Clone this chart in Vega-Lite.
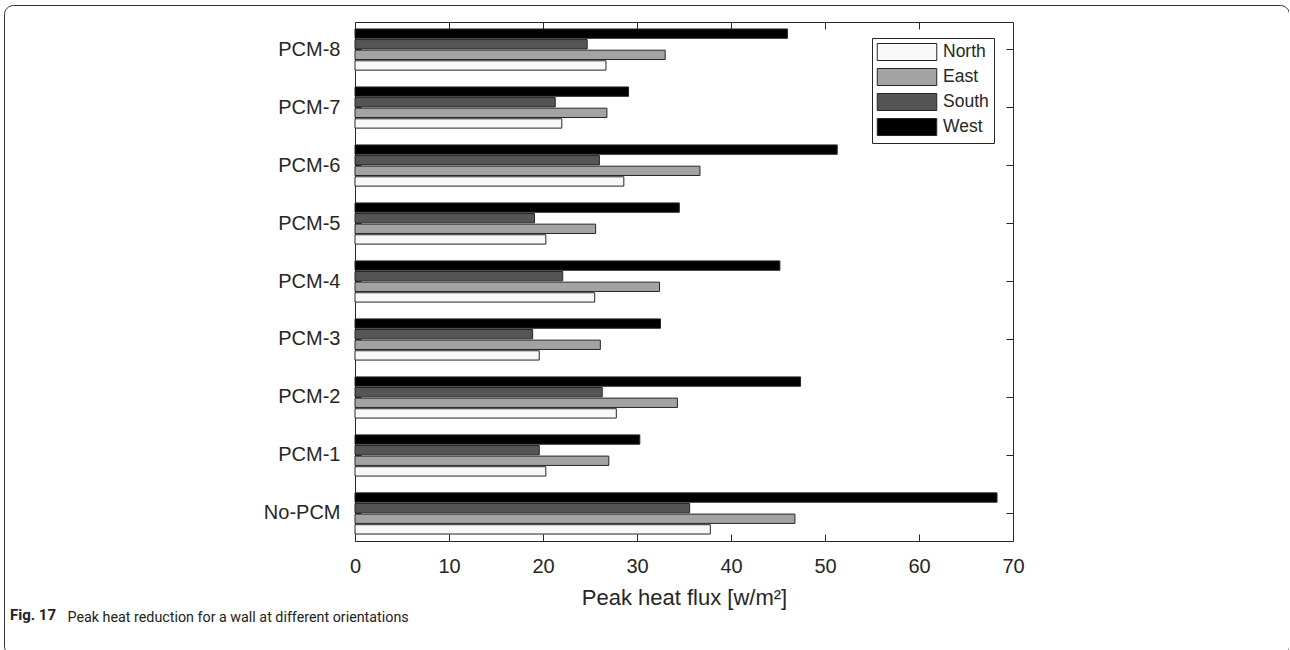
{
  "$schema": "https://vega.github.io/schema/vega-lite/v6.json",
  "width": 1285,
  "height": 650,
  "autosize": {"type": "none"},
  "padding": {"left": 4, "top": 5, "right": 0, "bottom": 0},
  "background": "white",
  "config": {
    "view": {"stroke": "#333333", "strokeWidth": 1, "cornerRadius": 9, "fill": "white"},
    "font": "Liberation Sans",
    "axis": {
      "grid": false,
      "domainColor": "#262626",
      "tickColor": "#262626",
      "labelColor": "#262626",
      "titleColor": "#262626",
      "labelFont": "Liberation Sans",
      "titleFont": "Liberation Sans",
      "titleFontWeight": "normal"
    }
  },
  "title": {
    "text": "Fig. 17",
    "orient": "top",
    "anchor": "start",
    "frame": "group",
    "offset": 0,
    "dx": 6,
    "dy": 630,
    "baseline": "alphabetic",
    "font": "Roboto",
    "fontSize": 15,
    "fontWeight": "bold",
    "color": "#222222"
  },
  "data": {
    "values": [
      {"config": "PCM-8", "orientation": "North", "flux": 26.7},
      {"config": "PCM-8", "orientation": "East", "flux": 33.0},
      {"config": "PCM-8", "orientation": "South", "flux": 24.7},
      {"config": "PCM-8", "orientation": "West", "flux": 46.0},
      {"config": "PCM-7", "orientation": "North", "flux": 22.0},
      {"config": "PCM-7", "orientation": "East", "flux": 26.8},
      {"config": "PCM-7", "orientation": "South", "flux": 21.3},
      {"config": "PCM-7", "orientation": "West", "flux": 29.1},
      {"config": "PCM-6", "orientation": "North", "flux": 28.6},
      {"config": "PCM-6", "orientation": "East", "flux": 36.7},
      {"config": "PCM-6", "orientation": "South", "flux": 26.0},
      {"config": "PCM-6", "orientation": "West", "flux": 51.3},
      {"config": "PCM-5", "orientation": "North", "flux": 20.3},
      {"config": "PCM-5", "orientation": "East", "flux": 25.6},
      {"config": "PCM-5", "orientation": "South", "flux": 19.1},
      {"config": "PCM-5", "orientation": "West", "flux": 34.5},
      {"config": "PCM-4", "orientation": "North", "flux": 25.5},
      {"config": "PCM-4", "orientation": "East", "flux": 32.4},
      {"config": "PCM-4", "orientation": "South", "flux": 22.1},
      {"config": "PCM-4", "orientation": "West", "flux": 45.2},
      {"config": "PCM-3", "orientation": "North", "flux": 19.6},
      {"config": "PCM-3", "orientation": "East", "flux": 26.1},
      {"config": "PCM-3", "orientation": "South", "flux": 18.9},
      {"config": "PCM-3", "orientation": "West", "flux": 32.5},
      {"config": "PCM-2", "orientation": "North", "flux": 27.8},
      {"config": "PCM-2", "orientation": "East", "flux": 34.3},
      {"config": "PCM-2", "orientation": "South", "flux": 26.3},
      {"config": "PCM-2", "orientation": "West", "flux": 47.4},
      {"config": "PCM-1", "orientation": "North", "flux": 20.3},
      {"config": "PCM-1", "orientation": "East", "flux": 27.0},
      {"config": "PCM-1", "orientation": "South", "flux": 19.6},
      {"config": "PCM-1", "orientation": "West", "flux": 30.3},
      {"config": "No-PCM", "orientation": "North", "flux": 37.8},
      {"config": "No-PCM", "orientation": "East", "flux": 46.8},
      {"config": "No-PCM", "orientation": "South", "flux": 35.6},
      {"config": "No-PCM", "orientation": "West", "flux": 68.3}
    ]
  },
  "layer": [
    {
      "mark": {"type": "bar", "stroke": "#262626", "strokeWidth": 1},
      "encoding": {
        "y": {
          "field": "config",
          "type": "nominal",
          "scale": {
            "domain": ["PCM-8", "PCM-7", "PCM-6", "PCM-5", "PCM-4", "PCM-3", "PCM-2", "PCM-1", "No-PCM"],
            "range": [17, 536],
            "paddingInner": 0.29,
            "paddingOuter": 0.12
          },
          "axis": {
            "orient": "left",
            "offset": -351,
            "title": null,
            "tickSize": -6,
            "labelPadding": 21,
            "labelFontSize": 20
          }
        },
        "yOffset": {
          "field": "orientation",
          "type": "nominal",
          "scale": {"domain": ["West", "South", "East", "North"], "paddingInner": 0.12, "paddingOuter": 0}
        },
        "x": {
          "field": "flux",
          "type": "quantitative",
          "scale": {"domain": [0, 70], "range": [351, 1009], "nice": false},
          "axis": {
            "orient": "bottom",
            "offset": -114,
            "values": [0, 10, 20, 30, 40, 50, 60, 70],
            "tickSize": -7,
            "labelPadding": 22,
            "labelFlush": false,
            "labelFontSize": 20,
            "title": "Peak heat flux [w/m²]",
            "titleFontSize": 22,
            "titlePadding": 11
          }
        },
        "color": {
          "field": "orientation",
          "type": "nominal",
          "scale": {"domain": ["North", "East", "South", "West"], "range": ["#f8f8f8", "#a3a3a3", "#555555", "#000000"]},
          "legend": {
            "orient": "none",
            "legendX": 868,
            "legendY": 33,
            "title": null,
            "padding": 5,
            "strokeColor": "#262626",
            "fillColor": "white",
            "symbolType": "M-3.5,-1H3.5V1H-3.5Z",
            "symbolSize": 289,
            "symbolOffset": 21,
            "symbolStrokeColor": "#262626",
            "symbolStrokeWidth": 1,
            "symbolOpacity": 1,
            "labelOffset": 27,
            "labelFontSize": 17.5,
            "labelColor": "#262626",
            "labelFont": "Liberation Sans",
            "rowPadding": 3
          }
        }
      }
    },
    {
      "mark": {"type": "bar", "opacity": 0},
      "encoding": {
        "y": {
          "field": "config",
          "type": "nominal",
          "axis": {
            "orient": "right",
            "offset": -276,
            "title": null,
            "labels": false,
            "tickSize": -7
          }
        },
        "x": {
          "field": "flux",
          "type": "quantitative",
          "axis": {
            "orient": "top",
            "offset": -17,
            "values": [0, 10, 20, 30, 40, 50, 60, 70],
            "labels": false,
            "tickSize": -7,
            "title": "Peak heat reduction for a wall at different orientations",
            "titleAngle": 0,
            "titleX": 63,
            "titleY": 599,
            "titleAnchor": "start",
            "titleAlign": "left",
            "titleBaseline": "alphabetic",
            "titleFont": "Roboto",
            "titleFontSize": 14.3,
            "titleFontWeight": "normal",
            "titleColor": "#222222"
          }
        }
      }
    }
  ],
  "resolve": {"axis": {"x": "independent", "y": "independent"}}
}
